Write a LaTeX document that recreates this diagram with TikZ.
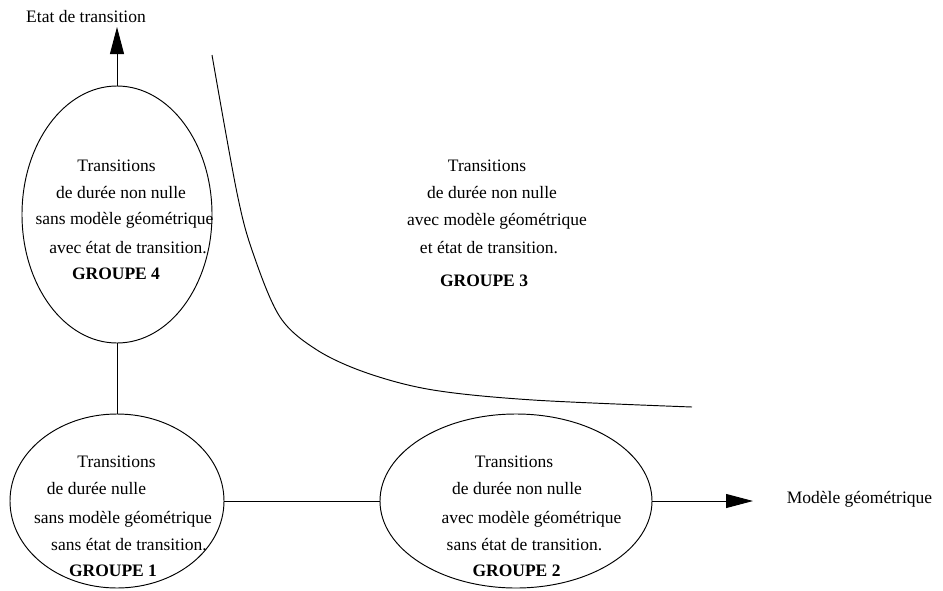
\documentclass[tikz,border=0pt]{standalone}
\usepackage{fontspec}
\setmainfont{Liberation Serif}
\usetikzlibrary{shapes.geometric,arrows.meta}
\begin{document}
\begin{tikzpicture}[x=1pt,y=-1pt,
  line width=0.95pt,
  groupe/.style={draw,ellipse,inner sep=0pt,outer sep=0pt},
  ligne/.style={anchor=base,inner sep=0pt,font=\fontsize{17.5}{20}\selectfont},
  titre/.style={ligne,font=\fontsize{17.5}{20}\selectfont\bfseries},
  fleche/.style={-{Triangle[length=27pt,width=14pt]}}]
\useasboundingbox (0,0) rectangle (943,590);

% groups
\node[groupe,minimum width=190pt,minimum height=257pt] (g4) at (117,214.5) {};
\node[groupe,minimum width=214pt,minimum height=174pt] (g1) at (117,501) {};
\node[groupe,minimum width=272pt,minimum height=174pt] (g2) at (516,501) {};

% axis ends
\coordinate (haut) at (117,27);
\coordinate (droite) at (753,501);

% connectors
\draw[fleche] (g4.north) -- (haut);
\draw (g4.south) -- (g1.north);
\draw (g1.east) -- (g2.west);
\draw[fleche] (g2.east) -- (droite);

% axis labels
\node[ligne] (etat) at (86,22) {Etat de transition};
\node[ligne] (modele) at (859.5,503) {Modèle géométrique};

% group 4
\node[ligne] (g4a) at (116.5,171) {Transitions};
\node[ligne] (g4b) at (121,198) {de durée non nulle};
\node[ligne] (g4c) at (124.5,224) {sans modèle géométrique};
\node[ligne] (g4d) at (128,253) {avec état de transition.};
\node[titre] (g4e) at (116,279) {GROUPE 4};

% group 3
\node[ligne] (g3a) at (487,171) {Transitions};
\node[ligne] (g3b) at (492,198) {de durée non nulle};
\node[ligne] (g3c) at (497,225) {avec modèle géométrique};
\node[ligne] (g3d) at (489,253) {et état de transition.};
\node[titre] (g3e) at (484,286) {GROUPE 3};

% group 1
\node[ligne] (g1a) at (116.5,467) {Transitions};
\node[ligne] (g1b) at (96.5,494) {de durée nulle};
\node[ligne] (g1c) at (123,523) {sans modèle géométrique};
\node[ligne] (g1d) at (129,550) {sans état de transition.};
\node[titre] (g1e) at (113,576) {GROUPE 1};

% group 2
\node[ligne] (g2a) at (514,467) {Transitions};
\node[ligne] (g2b) at (517,494) {de durée non nulle};
\node[ligne] (g2c) at (531.5,523) {avec modèle géométrique};
\node[ligne] (g2d) at (524.5,550) {sans état de transition.};
\node[titre] (g2e) at (516.5,576) {GROUPE 2};

% boundary of group 3
\draw plot[smooth,tension=0.55] coordinates {(212,55) (237,193) (253,253) (280,317) (317,350) (367,373) (433,390) (533,400) (692,407)};
\end{tikzpicture}
\end{document}
